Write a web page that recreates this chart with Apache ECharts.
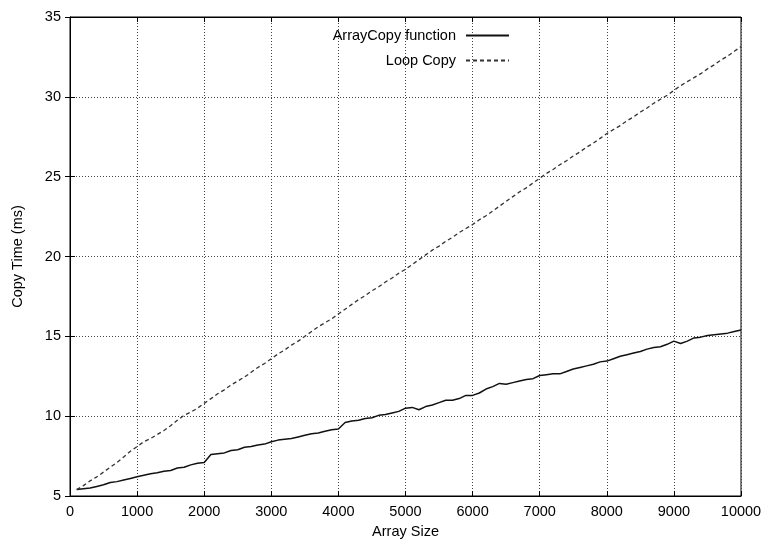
<!DOCTYPE html>
<html>
<head>
<meta charset="utf-8">
<script src="https://cdn.jsdelivr.net/npm/echarts@6/dist/echarts.min.js"></script>
<style>
  html, body { margin: 0; padding: 0; background: #fff; }
  #chart { width: 766px; height: 540px; }
</style>
</head>
<body>
<div id="chart"></div>
<script>
// array sizes, 100 .. 10000 step 100
const sizes = [
  100, 200, 300, 400, 500, 600, 700, 800, 900, 1000,
  1100, 1200, 1300, 1400, 1500, 1600, 1700, 1800, 1900, 2000,
  2100, 2200, 2300, 2400, 2500, 2600, 2700, 2800, 2900, 3000,
  3100, 3200, 3300, 3400, 3500, 3600, 3700, 3800, 3900, 4000,
  4100, 4200, 4300, 4400, 4500, 4600, 4700, 4800, 4900, 5000,
  5100, 5200, 5300, 5400, 5500, 5600, 5700, 5800, 5900, 6000,
  6100, 6200, 6300, 6400, 6500, 6600, 6700, 6800, 6900, 7000,
  7100, 7200, 7300, 7400, 7500, 7600, 7700, 7800, 7900, 8000,
  8100, 8200, 8300, 8400, 8500, 8600, 8700, 8800, 8900, 9000,
  9100, 9200, 9300, 9400, 9500, 9600, 9700, 9800, 9900, 10000
];

const arrayCopy = [
  5.4, 5.45, 5.5, 5.6, 5.7, 5.85, 5.9, 6.0, 6.1, 6.2,
  6.3, 6.4, 6.45, 6.55, 6.6, 6.75, 6.8, 6.95, 7.05, 7.1,
  7.6, 7.65, 7.7, 7.85, 7.9, 8.05, 8.1, 8.2, 8.25, 8.4,
  8.5, 8.55, 8.6, 8.7, 8.8, 8.9, 8.95, 9.05, 9.15, 9.2,
  9.6, 9.7, 9.75, 9.85, 9.9, 10.05, 10.1, 10.2, 10.3, 10.5,
  10.55, 10.4, 10.6, 10.7, 10.85, 11.0, 11.0, 11.1, 11.3, 11.3,
  11.45, 11.7, 11.85, 12.05, 12.0, 12.1, 12.2, 12.3, 12.35, 12.55,
  12.6, 12.65, 12.65, 12.8, 12.95, 13.05, 13.15, 13.25, 13.4, 13.45,
  13.6, 13.75, 13.85, 13.95, 14.05, 14.2, 14.3, 14.35, 14.5, 14.7,
  14.55, 14.7, 14.9, 14.95, 15.05, 15.1, 15.15, 15.2, 15.3, 15.4
];

const loopCopy = [
  5.4, 5.65, 5.95, 6.2, 6.5, 6.8, 7.1, 7.45, 7.8, 8.1,
  8.4, 8.6, 8.85, 9.1, 9.4, 9.75, 10.05, 10.25, 10.5, 10.8,
  11.1, 11.4, 11.65, 11.95, 12.2, 12.45, 12.75, 13.05, 13.3, 13.6,
  13.9, 14.15, 14.45, 14.7, 15.0, 15.3, 15.6, 15.85, 16.1, 16.4,
  16.7, 17.0, 17.3, 17.55, 17.85, 18.1, 18.4, 18.65, 18.95, 19.2,
  19.5, 19.8, 20.1, 20.4, 20.65, 20.95, 21.2, 21.5, 21.75, 22.0,
  22.3, 22.55, 22.85, 23.15, 23.45, 23.75, 24.05, 24.3, 24.6, 24.9,
  25.2, 25.45, 25.75, 26.0, 26.3, 26.55, 26.85, 27.1, 27.4, 27.7,
  27.95, 28.2, 28.5, 28.75, 29.05, 29.3, 29.6, 29.85, 30.1, 30.4,
  30.7, 30.95, 31.2, 31.45, 31.75, 32.0, 32.3, 32.55, 32.85, 33.15
];

const font = 'Liberation Sans, Arial, sans-serif';
const fs = 14.5;

const chart = echarts.init(document.getElementById('chart'), null, { renderer: 'canvas' });

const gridLine = { show: true, lineStyle: { color: '#444', width: 1, type: [1, 2] } };
const tick = { show: true, inside: true, length: 5, lineStyle: { color: '#000', width: 1 } };

chart.setOption({
  animation: false,
  backgroundColor: '#fff',
  textStyle: { fontFamily: font },
  grid: {
    left: 70, right: 25, top: 17, bottom: 44,
    outerBoundsMode: 'none',
    containLabel: false,
    show: true, borderColor: '#000', borderWidth: 1, backgroundColor: 'transparent'
  },
  legend: {
    orient: 'vertical',
    align: 'right',
    right: 251,
    top: 23,
    itemWidth: 43,
    itemHeight: 14,
    itemGap: 10,
    itemStyle: { opacity: 0 },
    textStyle: { fontFamily: font, fontSize: fs, color: '#000', padding: [0, 5, 0, 0] },
    data: ['ArrayCopy function', 'Loop Copy']
  },
  xAxis: [{
    type: 'value', min: 0, max: 10000, interval: 1000,
    name: 'Array Size', nameLocation: 'middle', nameGap: 28,
    nameTextStyle: { fontFamily: font, fontSize: fs, color: '#000' },
    axisLine: { show: true, lineStyle: { color: '#000' } },
    axisTick: tick,
    axisLabel: { fontFamily: font, fontSize: fs, color: '#000', margin: 8, formatter: v => String(v) },
    splitLine: gridLine
  }, {
    type: 'value', min: 0, max: 10000, interval: 1000, position: 'top',
    axisLine: { show: true, lineStyle: { color: '#000' } },
    axisTick: tick, axisLabel: { show: false }, splitLine: { show: false }
  }],
  yAxis: [{
    type: 'value', min: 5, max: 35, interval: 5,
    name: 'Copy Time (ms)', nameLocation: 'middle', nameGap: 45,
    nameTextStyle: { fontFamily: font, fontSize: fs, color: '#000' },
    axisLine: { show: true, lineStyle: { color: '#000' } },
    axisTick: tick,
    axisLabel: { fontFamily: font, fontSize: fs, color: '#000', margin: 9 },
    splitLine: gridLine
  }, {
    type: 'value', min: 5, max: 35, interval: 5, position: 'right',
    axisLine: { show: true, lineStyle: { color: '#000' } },
    axisTick: tick, axisLabel: { show: false }, splitLine: { show: false }
  }],
  series: [{
    name: 'ArrayCopy function',
    type: 'line',
    symbol: 'none',
    color: '#000',
    lineStyle: { color: '#111', width: 1.5 },
    data: sizes.map((s, i) => [s, arrayCopy[i]])
  }, {
    name: 'Loop Copy',
    type: 'line',
    symbol: 'none',
    color: '#333',
    lineStyle: { color: '#333', width: 1.3, type: [4, 3] },
    data: sizes.map((s, i) => [s, loopCopy[i]])
  }]
});
</script>
</body>
</html>
